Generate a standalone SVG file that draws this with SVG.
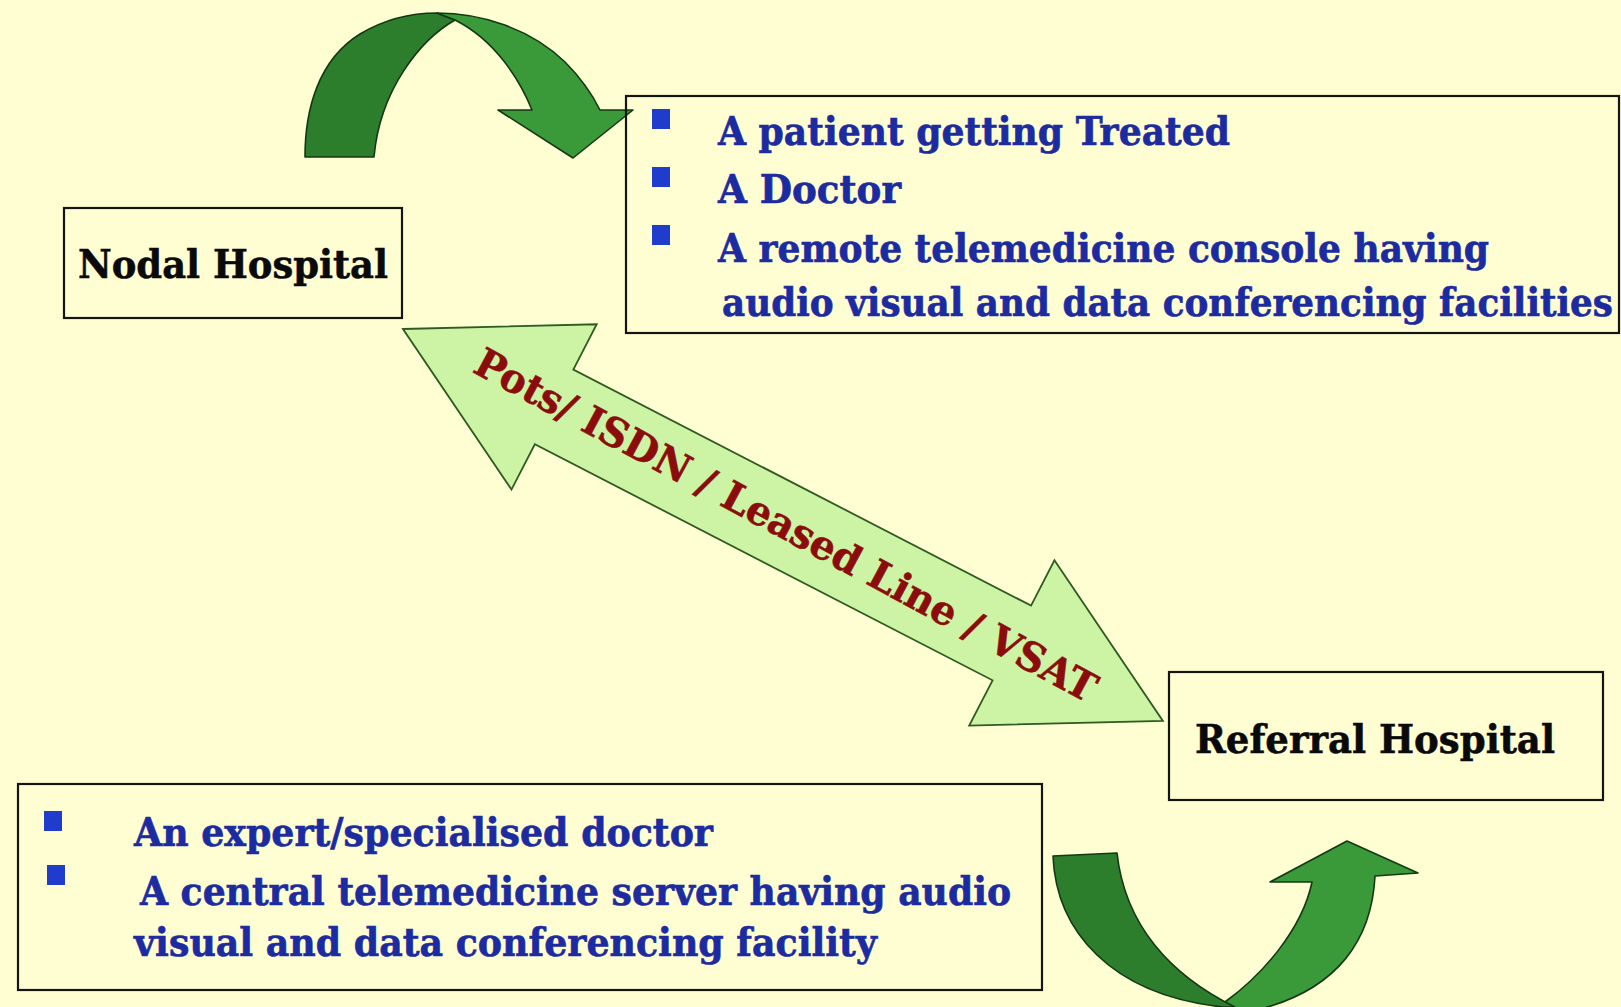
<svg xmlns="http://www.w3.org/2000/svg" width="1621" height="1007" viewBox="0 0 1621 1007">
  <style>
    .box { fill: none; stroke: #141414; stroke-width: 2.2; }
    .serif { font-family: "DejaVu Serif Condensed", "DejaVu Serif", "Liberation Serif", serif; font-stretch: condensed; font-weight: bold; }
    .title { font-size: 39px; fill: #0a0a0a; stroke: #0a0a0a; stroke-width: 0.5; }
    .item { font-size: 40px; fill: #1c2ba0; stroke: #1c2ba0; stroke-width: 0.6; }
    .bullet { fill: #1f3ccc; }
    .link-label { font-size: 40px; fill: #8a0c0c; stroke: #8a0c0c; stroke-width: 0.5; }
    .arc-dark { fill: #2c7d2c; stroke: #143814; stroke-width: 1.6; stroke-linejoin: round; }
    .arc-light { fill: #3a9a3a; stroke: #143814; stroke-width: 1.6; stroke-linejoin: round; }
    .link { fill: #cdf4a4; stroke: #2f5a22; stroke-width: 1.8; stroke-linejoin: miter; }
  </style>

  <rect x="0" y="0" width="1621" height="1007" fill="#fffed2"/>

  <!-- connectors: curved arrows and the two-way link -->
  <g id="connectors">
    <!-- curved arrow over the nodal hospital -->
    <g id="arc-top">
      <path class="arc-dark" d="M305,157 C305,110 318,60 360,34 C385,19 410,13 437,13 L455,20 C420,40 380,90 374,157 Z"/>
      <path class="arc-light" d="M437,13 C480,13 530,28 565,62 C585,82 595,100 600,110 L633,110 L573,158 L498,110 L532,110 C520,80 495,40 455,20 Z"/>
    </g>
    <!-- curved arrow under the referral hospital -->
    <g id="arc-bottom">
      <path class="arc-light" d="M1225,1002 C1262,975 1302,930 1312,882 L1270,882 L1347,841 L1418,873 L1375,876 C1372,935 1342,992 1248,1012 L1215,1012 Z"/>
      <path class="arc-dark" d="M1053,856 C1056,930 1110,995 1223,1007 L1235,1007 C1170,975 1125,925 1117,853 Z"/>
    </g>
    <!-- two-way link between the hospitals -->
    <g id="link" transform="translate(403,329) rotate(27.28)">
      <path class="link" d="M0,0 L170,-93 L170,-42 L685,-42 L685,-93 L855,0 L685,93 L685,42 L170,42 L170,93 Z"/>
    </g>
    <text class="serif link-label" transform="translate(786,525) rotate(28.3)" x="0" y="14" text-anchor="middle" textLength="700" lengthAdjust="spacingAndGlyphs">Pots/ ISDN / Leased Line / VSAT</text>
  </g>

  <!-- nodal hospital -->
  <g id="nodal-hospital">
    <rect class="box" x="64" y="208" width="338" height="110"/>
    <text class="serif title" x="78" y="278" textLength="310" lengthAdjust="spacingAndGlyphs">Nodal Hospital</text>
  </g>

  <!-- facilities at the nodal hospital -->
  <g id="nodal-facilities">
    <rect class="box" x="626" y="96" width="993" height="237"/>
    <rect class="bullet" x="652" y="109" width="18" height="20"/>
    <rect class="bullet" x="652" y="167" width="18" height="20"/>
    <rect class="bullet" x="652" y="225" width="18" height="20"/>
    <text class="serif item" x="718" y="145" textLength="512" lengthAdjust="spacingAndGlyphs">A patient getting Treated</text>
    <text class="serif item" x="718" y="203" textLength="183" lengthAdjust="spacingAndGlyphs">A Doctor</text>
    <text class="serif item" x="718" y="262" textLength="771" lengthAdjust="spacingAndGlyphs">A remote telemedicine console having</text>
    <text class="serif item" x="722" y="316" textLength="891" lengthAdjust="spacingAndGlyphs">audio visual and data conferencing facilities</text>
  </g>

  <!-- referral hospital -->
  <g id="referral-hospital">
    <rect class="box" x="1169" y="672" width="434" height="128"/>
    <text class="serif title" x="1195" y="753" textLength="360" lengthAdjust="spacingAndGlyphs">Referral Hospital</text>
  </g>

  <!-- facilities at the referral hospital -->
  <g id="referral-facilities">
    <rect class="box" x="18" y="784" width="1024" height="206"/>
    <rect class="bullet" x="44" y="811" width="18" height="20"/>
    <rect class="bullet" x="47" y="865" width="18" height="20"/>
    <text class="serif item" x="134" y="846" textLength="579" lengthAdjust="spacingAndGlyphs">An expert/specialised doctor</text>
    <text class="serif item" x="140" y="905" textLength="871" lengthAdjust="spacingAndGlyphs">A central telemedicine server having audio</text>
    <text class="serif item" x="134" y="956" textLength="743" lengthAdjust="spacingAndGlyphs">visual and data conferencing facility</text>
  </g>
</svg>
